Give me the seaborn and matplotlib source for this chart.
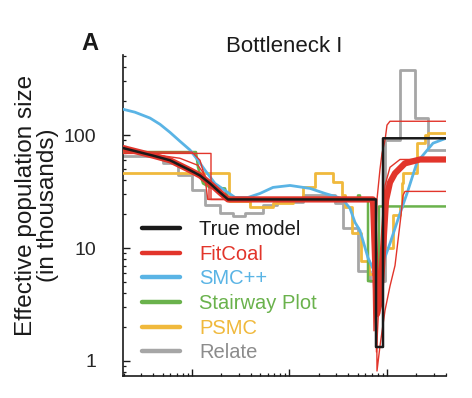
import matplotlib
matplotlib.use("Agg")
import matplotlib.pyplot as plt
import seaborn as sns
from matplotlib.lines import Line2D
from matplotlib.ticker import FixedLocator, LogLocator, NullFormatter

# --- data (x: generations ago, y: Ne in thousands) ---
true_x = [196, 398, 595, 954, 1208, 1530, 1938, 2340, 77140, 77140, 91000, 91000, 402900]
true_y = [77, 66, 60, 49, 44, 37.4, 31.1, 27, 27, 1.33, 1.33, 94, 94]

fitcoal_x = [196, 398, 595, 954, 1208, 1530, 1938, 2340, 71850, 78960, 84770, 91000,
             97650, 107300, 120800, 152900, 218100, 402900]
fitcoal_y = [77, 66, 60, 49, 44, 37.4, 31.1, 27, 27, 2.6, 3.4, 9.5,
             26.4, 38.2, 46, 56.4, 61, 61]

# single FitCoal replicates (thin lines)
rep1_x = [196, 1566, 1566, 77140, 78960, 84770, 95390, 107300, 120800, 129700,
          139200, 145900, 152900, 402900]
rep1_y = [69, 69, 27, 27, 0.815, 1.36, 2.8, 4.6, 7.0, 11.7, 19.5, 29.3, 31.8, 31.8]
rep2_x = [196, 753, 1152, 1359, 1494, 1494, 70200, 73570, 78960, 84770, 88840,
          95390, 100000, 107300, 402900]
rep2_y = [74, 62.5, 54.1, 44, 35.9, 27, 27, 1.85, 27, 50, 69, 90, 123, 133, 133]
rep3_x = [196, 1000, 1208, 1359, 1450, 74500, 78000, 82780, 88840, 95390, 107300,
          135900, 402900]
rep3_y = [71, 71, 60, 42.3, 27, 27, 1.2, 3.4, 12.4, 35.9, 52, 61, 61]

smc_x = [196, 260, 371, 470, 595, 753, 954, 1152, 1359, 1721, 2181, 2761, 3753,
         4982, 6773, 10120, 16230, 23130, 34560, 41730, 46960, 52860, 63860,
         73570, 80830, 88840, 107300, 135900, 160400, 203100, 296400, 402900]
smc_y = [170, 160, 142, 125, 106, 88.4, 74, 60, 49, 37.4, 32.4, 28.1, 28.1,
         30.5, 34.5, 35.9, 33.8, 30.5, 27.5, 22.5, 16.9, 14.3, 8.2,
         6.3, 5.5, 7.0, 11, 20.3, 30.5, 57.5, 85, 94]

stair_x = [196, 1099, 1152, 1297, 1530, 2181, 2340, 50430, 50430, 52860, 52860,
           63860, 63860, 82780, 82780, 402900]
stair_y = [71, 71, 52, 37.4, 34.5, 33.8, 27, 27, 29.3, 29.3, 27,
           27, 5.1, 5.1, 23.4, 23.4]

psmc_x = [196, 2396, 3934, 6773, 10860, 13760, 18260, 27940, 34560, 37090, 43750,
          54110, 65390, 88840, 115200, 135900, 142500, 145900, 203100, 245300,
          263400, 402900]
psmc_y = [46, 26.4, 22.9, 24.9, 27, 34.5, 46, 38.2, 29.3, 22.9, 13.5,
          7.7, 5.9, 10.1, 19.5, 22.9, 37.4, 46, 85, 100, 104, 104]

relate_x = [196, 504, 719, 1000, 1359, 1938, 2634, 3496, 5349, 7443, 13760,
            29290, 35380, 50430, 66930, 95390, 135900, 193800, 263400, 402900]
relate_y = [66, 56.4, 44, 32.4, 23.9, 20.3, 19.1, 20.3, 23.9, 25.4, 29.3,
            24.9, 15.2, 6.3, 5.1, 90, 378, 142, 74, 74]

names = ["True model", "FitCoal", "SMC++", "Stairway Plot", "PSMC", "Relate"]
colors = ["#1a1a1a", "#e2352b", "#5ab4e5", "#6ab24c", "#f0b93c", "#a6a6a6"]
text_colors = ["#1a1a1a", "#e2352b", "#5ab4e5", "#6ab24c", "#f0b93c", "#8c8c8c"]

# === STYLE ===
sns.set_style("ticks")
plt.rcParams['font.family'] = ['Liberation Sans', 'DejaVu Sans']

fig = plt.figure(figsize=(4.72, 3.98), dpi=100)
ax = fig.add_axes([123/472, 1 - 376/398, 323/472, 321/398])


def draw(x, y, color, lw, z, steps=False):
    sns.lineplot(x=x, y=y, ax=ax, color=color, lw=lw, sort=False,
                 estimator=None, legend=False, zorder=z,
                 drawstyle='steps-post' if steps else 'default')


draw(relate_x, relate_y, colors[5], 2.0, 2, steps=True)
draw(psmc_x, psmc_y, colors[4], 2.0, 3, steps=True)
draw(stair_x, stair_y, colors[3], 1.8, 4)
draw(smc_x, smc_y, colors[2], 2.0, 5)
for rx, ry in [(rep1_x, rep1_y), (rep2_x, rep2_y), (rep3_x, rep3_y)]:
    draw(rx, ry, colors[1], 1.0, 6)
draw(fitcoal_x, fitcoal_y, colors[1], 4.5, 7)
draw(true_x, true_y, colors[0], 1.8, 8)

# === AXES ===
ax.set_xscale('log')
ax.set_yscale('log')
ax.set_xlim(196, 402900)
ax.set_ylim(0.736, 514)
ax.set_xlabel("")
ax.set_ylabel("")
sns.despine(ax=ax)
for s in ["left", "bottom"]:
    ax.spines[s].set_linewidth(1.2)
    ax.spines[s].set_color("#1a1a1a")

ax.yaxis.set_major_locator(FixedLocator([1, 10, 100]))
ax.set_yticklabels(["1", "10", "100"])
ax.yaxis.set_minor_locator(LogLocator(base=10, subs=range(2, 10)))
ax.yaxis.set_minor_formatter(NullFormatter())
ax.xaxis.set_major_locator(LogLocator(base=10))
ax.xaxis.set_minor_locator(LogLocator(base=10, subs=range(2, 10)))
ax.xaxis.set_minor_formatter(NullFormatter())
ax.tick_params(which='both', direction='in', color='#1a1a1a')
ax.tick_params(which='major', length=5, width=1.0)
ax.tick_params(which='minor', length=2.5, width=0.9)
ax.tick_params(axis='y', which='major', labelsize=14, pad=19)
ax.tick_params(axis='x', labelbottom=False)

# === LEGEND ===
handles = [Line2D([], [], color=c, lw=3.2) for c in colors]
leg = ax.legend(handles, names, loc='upper left', bbox_to_anchor=(0.059, 0.486),
                frameon=False, fontsize=14.5, handlelength=1.9,
                handletextpad=0.95, labelspacing=0.28, borderpad=0,
                borderaxespad=0)
for t, c in zip(leg.get_texts(), text_colors):
    t.set_color(c)

# === TEXTS ===
fig.text(284.5/472, 1 - 52/398, "Bottleneck I", ha='center', va='baseline',
         fontsize=16, color='#1a1a1a')
fig.text(90/472, 1 - 50/398, "A", ha='center', va='baseline', fontsize=17,
         fontweight='bold', color='#1a1a1a')
fig.text(37/472, 1 - 205/398, "Effective population size\n(in thousands)",
         rotation=90, ha='center', va='center', multialignment='center',
         fontsize=17.5, linespacing=0.95, color='#1a1a1a')

fig.savefig("out.png", dpi=100)
